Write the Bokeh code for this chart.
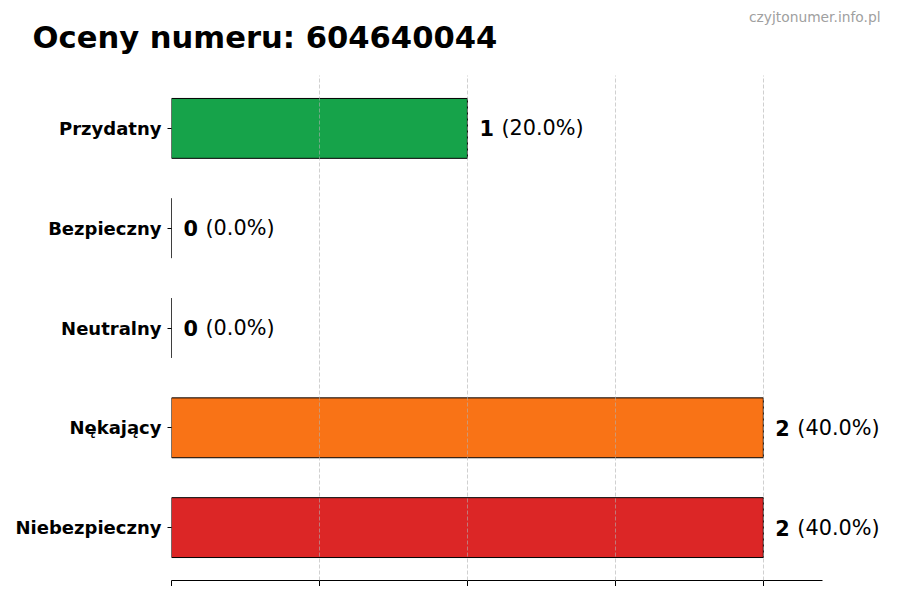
from bokeh.plotting import figure
from bokeh.models import ColumnDataSource, FixedTicker, Range1d, Title
from bokeh.embed import file_html
from bokeh.resources import INLINE
from bokeh.core.properties import value

categories = ["Przydatny", "Bezpieczny", "Neutralny", "Nękający", "Niebezpieczny"]
counts = [1, 0, 0, 2, 2]
colors = ["#16a34a", "#2563eb", "#9ca3af", "#f97316", "#dc2626"]
title_text = "Oceny numeru: 604640044"
watermark = "czyjtonumer.info.pl"
x_ticks = [0, 0.5, 1, 1.5, 2]
x_axis_max = 2.2

total = sum(counts)
n = len(categories)
ypos = [n - 1 - i for i in range(n)]
pct = ["(%.1f%%)" % (100.0 * c / total) for c in counts]
nums = [str(c) for c in counts]

src = ColumnDataSource(dict(y=ypos, right=counts, color=colors, num=nums, pct=pct))

FONT = "DejaVu Sans"
LEFT, TOP = 171, 75
AXIS_W = 651          # pixel length of the drawn x axis
FW, FH = 721, 505     # frame extends right so value labels are not clipped
x_end = x_axis_max * FW / AXIS_W

p = figure(frame_width=FW, frame_height=FH, output_backend="svg", toolbar_location=None,
           x_range=Range1d(0, x_end), y_range=Range1d(-0.53, n - 1 + 0.53),
           min_border_left=LEFT, min_border_right=3, min_border_top=TOP, min_border_bottom=5)
p.outline_line_color = None
p.background_fill_color = "white"
p.border_fill_color = "white"

# outermost header line: site watermark (right aligned)
p.title.text = watermark
p.title.align = "right"
p.title.vertical_align = "bottom"
p.title.text_font = FONT
p.title.text_font_style = "normal"
p.title.text_font_size = "13.8px"
p.title.text_color = "#a0a0a0"
p.title.offset = 892 - 880
p.title.standoff = -46

# main heading, next to the plot area
main_title = Title(text=title_text, align="left", vertical_align="top", text_font=FONT,
                   text_font_style="bold", text_font_size="30.6px", text_color="black",
                   offset=34 - LEFT - 2, standoff=37)
p.add_layout(main_title, "above")

p.hbar(y="y", left=0, right="right", height=0.6, fill_color="color", line_color="black",
       line_width=1, source=src)

p.text(x="right", y="y", text="num", x_offset=12, text_font=value(FONT), text_font_style="bold",
       text_font_size="20.8px", text_baseline="middle", text_align="left", text_color="black", source=src)
p.text(x="right", y="y", text="pct", x_offset=34, text_font=value(FONT),
       text_font_size="20.8px", text_baseline="middle", text_align="left", text_color="black", source=src)

# axes
p.xaxis.ticker = FixedTicker(ticks=x_ticks)
p.xaxis.bounds = (0, x_axis_max)
p.xaxis.major_label_text_font_size = "0px"
p.xaxis.axis_line_color = "black"
p.xaxis.major_tick_line_color = "black"
p.xaxis.major_tick_out = 6
p.xaxis.major_tick_in = 0
p.xaxis.minor_tick_line_color = None

p.yaxis.ticker = FixedTicker(ticks=ypos)
p.yaxis.major_label_overrides = {y: c for y, c in zip(ypos, categories)}
p.yaxis.axis_line_color = None
p.yaxis.major_tick_line_color = "black"
p.yaxis.major_tick_out = 4
p.yaxis.major_tick_in = 0
p.yaxis.minor_tick_line_color = None
p.yaxis.major_label_text_font = FONT
p.yaxis.major_label_text_font_style = "bold"
p.yaxis.major_label_text_font_size = "18px"
p.yaxis.major_label_text_color = "black"
p.yaxis.major_label_standoff = 6

p.ygrid.grid_line_color = None
p.xgrid.ticker = FixedTicker(ticks=x_ticks)
p.xgrid.grid_line_color = "#b0b0b0"
p.xgrid.grid_line_alpha = 0.6
p.xgrid.grid_line_dash = "4 2"
p.xgrid.level = "overlay"

open("out.html", "w").write(file_html(p, INLINE))
